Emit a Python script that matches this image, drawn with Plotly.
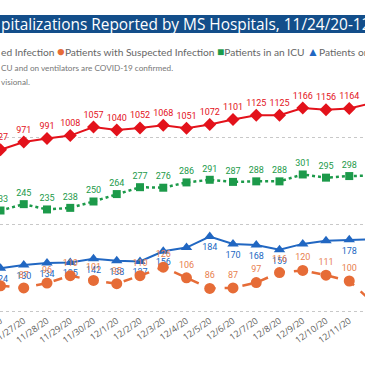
import plotly.graph_objects as go

# ---------------- data ----------------
dates = ["11/26/20", "11/27/20", "11/28/20", "11/29/20", "11/30/20", "12/1/20",
         "12/2/20", "12/3/20", "12/4/20", "12/5/20", "12/6/20", "12/7/20",
         "12/8/20", "12/9/20", "12/10/20", "12/11/20", "12/12/20", "12/13/20"]
confirmed = [927, 971, 991, 1008, 1057, 1040, 1052, 1068, 1051, 1072, 1101, 1125,
             1125, 1166, 1156, 1164, 1195, None]
suspected = [91, 87, 96, 110, 101, 95, 110, 126, 106, 86, 87, 97,
             116, 120, 111, 100, 60, None]
icu = [233, 245, 235, 238, 250, 264, 277, 276, 286, 291, 287, 288,
       288, 301, 295, 298, 299, None]
vent = [124, 130, 134, 135, 142, 138, 137, 156, 163, 184, 170, 168,
        159, 170, 176, 178, 179, None]
# which data labels are displayed (overlapping ones are hidden in the original)
show_susp = [False] + [True] * 17
show_vent = [True] * 8 + [False] + [True] * 4 + [False, False] + [True] * 3

title_text = "pitalizations Reported by MS Hospitals, 11/24/20-12/14/20"
legend_names = ["Patients with Confirmed Infection", "Patients with Suspected Infection",
                "Patients in an ICU", "Patients on Ventilators"]
note1 = "CU and on ventilators are COVID-19 confirmed."
note2 = "visional."

# ---------------- styling / layout constants ----------------
W = H = 365
ML, MR, MT, MB = 0, 0, 90, 52
PW, PH = W - ML - MR, H - MT - MB
BOTTOM = H - MB

RED, ORANGE, GREEN, BLUE = "#E3121B", "#E66C37", "#1C9A4A", "#2167C2"
LBL_FONT = "Liberation Sans Narrow, Roboto, sans-serif"

# primary axis: value 0 at pixel 311, 0.174 px per unit
P0, PS = 311.0, 0.174
# secondary axis: value 0 at pixel 334, 0.53 px per unit
S0, SS = 334.0, 0.53
DAY_PX = 23.25
X_FIRST_PX = 0.5


def py(ypx):
    return (H - MB - ypx) / PH


def px(xpx):
    return (xpx - ML) / PW


def labels(vals, mask=None):
    out = []
    for i, v in enumerate(vals):
        if v is None or (mask is not None and not mask[i]):
            out.append("")
        else:
            out.append(str(v))
    return out


fig = go.Figure()

fig.add_trace(go.Scatter(
    x=dates, y=confirmed, name=legend_names[0], mode="lines+markers+text",
    line=dict(color=RED, width=2),
    marker=dict(symbol="diamond", size=10, color=RED),
    text=labels(confirmed), textposition="top center",
    textfont=dict(color=RED, size=9, family=LBL_FONT),
    cliponaxis=False, yaxis="y"))

fig.add_trace(go.Scatter(
    x=dates, y=icu, name=legend_names[2], mode="lines+markers+text",
    line=dict(color=GREEN, width=2.5, dash="dot"),
    marker=dict(symbol="square", size=8, color=GREEN),
    text=labels(icu), textposition="top center",
    textfont=dict(color=GREEN, size=9, family=LBL_FONT),
    cliponaxis=False, yaxis="y2"))

fig.add_trace(go.Scatter(
    x=dates, y=vent, name=legend_names[3], mode="lines+markers+text",
    line=dict(color=BLUE, width=2),
    marker=dict(symbol="triangle-up", size=10, color=BLUE),
    text=labels(vent, show_vent), textposition="bottom center",
    textfont=dict(color=BLUE, size=9, family=LBL_FONT),
    cliponaxis=False, yaxis="y2"))

fig.add_trace(go.Scatter(
    x=dates, y=suspected, name=legend_names[1], mode="lines+markers+text",
    line=dict(color=ORANGE, width=2.5, dash="dash"),
    marker=dict(symbol="circle", size=11, color=ORANGE),
    text=labels(suspected, show_susp), textposition="top center",
    textfont=dict(color="#E8814F", size=9, family=LBL_FONT),
    cliponaxis=False, yaxis="y2"))

x0 = -X_FIRST_PX / DAY_PX
x1 = x0 + PW / DAY_PX

fig.update_layout(
    width=W, height=H, margin=dict(l=ML, r=MR, t=MT, b=MB, autoexpand=False),
    paper_bgcolor="white", plot_bgcolor="white", showlegend=False,
    xaxis=dict(type="category", categoryorder="array", categoryarray=dates,
               range=[x0, x1], showgrid=False, zeroline=False, showline=False,
               ticks="", tickangle=-35, automargin=False,
               tickfont=dict(size=9, color="#605E5C", family="Open Sans")),
    yaxis=dict(range=[-(BOTTOM - P0) / PS, (P0 - MT) / PS],
               tickvals=[0, 500, 1000], showticklabels=False, automargin=False,
               showgrid=True, gridcolor="#C8C8C8", griddash="dot", gridwidth=1,
               zeroline=False, showline=False, fixedrange=True),
    yaxis2=dict(range=[(S0 - BOTTOM) / SS, (S0 - MT) / SS], overlaying="y",
                side="right", showgrid=False, showticklabels=False,
                automargin=False, zeroline=False, showline=False),
)

# title bar
fig.add_shape(type="rect", xref="paper", yref="paper",
              x0=px(-5), x1=px(W + 5), y0=py(33), y1=py(15),
              fillcolor="#134E8A", line=dict(width=0), layer="above")
fig.add_annotation(text=title_text, xref="paper", yref="paper",
                   x=px(-1), y=py(24), xanchor="left", yanchor="middle",
                   showarrow=False,
                   font=dict(color="white", size=15.4, family="Open Sans"))

# legend row
legend_html = ("ed Infection "
               f"<span style='color:{ORANGE};font-size:13px'>●</span>{legend_names[1]} "
               f"<span style='color:{GREEN};font-size:12px'>■</span>{legend_names[2]} "
               f"<span style='color:{BLUE};font-size:12px'>▲</span>{legend_names[3]}")
fig.add_annotation(text=legend_html, xref="paper", yref="paper",
                   x=px(-1), y=py(51), xanchor="left", yanchor="middle",
                   showarrow=False,
                   font=dict(color="#666666", size=10.2, family="Lato"))

fig.add_annotation(text=note1, xref="paper", yref="paper",
                   x=px(-1), y=py(68), xanchor="left", yanchor="middle",
                   showarrow=False,
                   font=dict(color="#777777", size=8.2, family="Lato"))
fig.add_annotation(text=note2, xref="paper", yref="paper",
                   x=px(-1), y=py(82), xanchor="left", yanchor="middle",
                   showarrow=False,
                   font=dict(color="#777777", size=8.2, family="Lato"))

# the page has no body margin so the figure sits in the window's corner
fig.write_html("out.html", config={"displayModeBar": False},
               post_script="document.body.style.margin='0';")
